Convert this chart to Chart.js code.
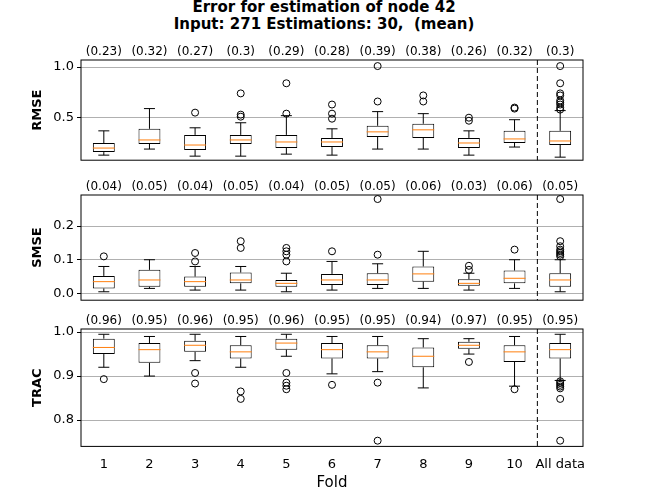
<!DOCTYPE html>
<html><head><meta charset="utf-8">
<script src="https://cdn.jsdelivr.net/npm/chart.js@4/dist/chart.umd.min.js"></script>
<style>
body{margin:0;width:648px;height:504px;position:relative;background:#fff;font-family:"DejaVu Sans";overflow:hidden}
.p{position:absolute;left:0;width:648px}
.t{position:absolute;left:0;width:648px;text-align:center;font-weight:bold;font-size:15px;color:#000;white-space:pre}
</style></head><body>
<div class="t" style="top:-2px">Error for estimation of node 42</div>
<div class="t" style="top:15px">Input: 271 Estimations: 30,  (mean)</div>
<div class="p" style="top:40px;height:131px"><canvas id="c1"></canvas></div>
<div class="p" style="top:175px;height:136px"><canvas id="c2"></canvas></div>
<div class="p" style="top:309px;height:195px"><canvas id="c3"></canvas></div>
<script>
const categories=['1','2','3','4','5','6','7','8','9','10','All data'];
// each stat: [whislo,q1,med,q3,whishi]
const rmseStats=[[0.13,0.16,0.20,0.25,0.37],[0.19,0.24,0.28,0.39,0.59],[0.12,0.18,0.23,0.33,0.40],[0.12,0.24,0.28,0.33,0.45],[0.14,0.20,0.26,0.33,0.52],[0.13,0.21,0.26,0.30,0.39],[0.19,0.31,0.36,0.42,0.56],[0.19,0.30,0.38,0.44,0.54],[0.13,0.20,0.25,0.30,0.37],[0.21,0.25,0.29,0.37,0.48],[0.11,0.23,0.27,0.37,0.57]];
const rmseOut=[[],[],[0.55],[0.51,0.53,0.74],[0.54,0.84],[0.49,0.54,0.63],[0.66,1.01],[0.66,0.72],[0.47,0.50],[0.59,0.60],[0.58,0.60,0.63,0.65,0.67,0.72,0.74,0.84,1.01]];
const rmseMeans=['(0.23)','(0.32)','(0.27)','(0.3)','(0.29)','(0.28)','(0.39)','(0.38)','(0.26)','(0.32)','(0.3)'];
const rmseTicks=[0.5,1.0];
const smseStats=[[0.005,0.015,0.035,0.052,0.08],[0.015,0.02,0.04,0.07,0.10],[0.01,0.02,0.035,0.05,0.08],[0.01,0.03,0.04,0.062,0.08],[0.005,0.02,0.03,0.04,0.06],[0.01,0.025,0.04,0.058,0.095],[0.015,0.025,0.04,0.06,0.088],[0.015,0.035,0.058,0.08,0.125],[0.01,0.023,0.03,0.042,0.06],[0.015,0.03,0.045,0.068,0.10],[0.005,0.02,0.04,0.06,0.10]];
const smseOut=[[0.11],[],[0.095,0.12],[0.135,0.155],[0.095,0.115,0.125,0.135],[0.125],[0.115,0.28],[],[0.07,0.082],[0.13],[0.11,0.115,0.12,0.125,0.13,0.14,0.155,0.28]];
const smseMeans=['(0.04)','(0.05)','(0.04)','(0.05)','(0.04)','(0.05)','(0.05)','(0.06)','(0.03)','(0.06)','(0.05)'];
const smseTicks=[0.0,0.1,0.2];
const tracStats=[[0.92,0.95,0.965,0.985,0.995],[0.90,0.93,0.96,0.975,0.99],[0.935,0.955,0.97,0.98,0.995],[0.92,0.94,0.955,0.97,0.99],[0.945,0.96,0.975,0.985,0.995],[0.905,0.94,0.96,0.975,0.99],[0.91,0.94,0.955,0.97,0.99],[0.873,0.92,0.945,0.965,0.985],[0.95,0.962,0.97,0.978,0.985],[0.877,0.932,0.955,0.97,0.99],[0.89,0.94,0.96,0.975,0.995]];
const tracOut=[[0.893],[],[0.907,0.883],[0.865,0.848],[0.907,0.885,0.878,0.87],[0.88],[0.885,0.753],[],[0.932],[0.87],[0.888,0.884,0.88,0.876,0.872,0.848,0.753]];
const tracMeans=['(0.96)','(0.95)','(0.96)','(0.95)','(0.96)','(0.95)','(0.95)','(0.94)','(0.97)','(0.95)','(0.95)'];
const tracTicks=[0.8,0.9,1.0];

const boxPlugin={id:'box',afterDatasetsDraw(chart,a,opts){
  const {ctx,chartArea:ca,scales:{x,y}}=chart;const st=opts.stats;
  ctx.save();ctx.lineWidth=1;
  st.forEach((s,i)=>{const cx=x.getPixelForValue(i);const hw=5.5;
    ctx.strokeStyle='#000';ctx.beginPath();
    ctx.moveTo(cx,y.getPixelForValue(s[0]));ctx.lineTo(cx,y.getPixelForValue(s[1]));
    ctx.moveTo(cx,y.getPixelForValue(s[3]));ctx.lineTo(cx,y.getPixelForValue(s[4]));
    [0,4].forEach(k=>{const py=y.getPixelForValue(s[k]);ctx.moveTo(cx-hw,py);ctx.lineTo(cx+hw,py);});
    ctx.stroke();
    ctx.strokeStyle='#ff7f0e';ctx.beginPath();const pm=y.getPixelForValue(s[2]);ctx.moveTo(cx-11,pm);ctx.lineTo(cx+11,pm);ctx.stroke();
  });
  ctx.strokeStyle='#000';ctx.strokeRect(ca.left,ca.top,ca.right-ca.left,ca.bottom-ca.top);
  const dx=(x.getPixelForValue(9)+x.getPixelForValue(10))/2;
  ctx.setLineDash([5,3]);ctx.beginPath();ctx.moveTo(dx,ca.top);ctx.lineTo(dx,ca.bottom);ctx.stroke();ctx.setLineDash([]);
  ctx.fillStyle='#000';ctx.font='12px "DejaVu Sans"';ctx.textAlign='center';ctx.textBaseline='bottom';
  opts.means.forEach((m,i)=>ctx.fillText(m,x.getPixelForValue(i),ca.top-2));
  ctx.restore();
}};
function make(id,stats,outs,means,title,min,max,tickVals,showX){
  const pts=[];outs.forEach((o,i)=>o.forEach(v=>pts.push({x:categories[i],y:v})));
  new Chart(document.getElementById(id),{type:'bar',
    data:{labels:categories,datasets:[
      {data:stats.map(s=>[s[1],s[3]]),backgroundColor:'#fff',borderColor:'#000',borderWidth:1,borderSkipped:false,barPercentage:0.48,categoryPercentage:1,order:2},
      {type:'line',data:pts,showLine:false,pointRadius:3.5,pointBackgroundColor:'rgba(0,0,0,0)',pointBorderColor:'#000',pointBorderWidth:1,order:1}]},
    options:{animation:false,responsive:true,maintainAspectRatio:false,events:[],
      layout:{padding:{top:20,right:65,left:30,bottom:showX?12:0}},
      plugins:{legend:{display:false},tooltip:{enabled:false},box:{stats,means}},
      scales:{
        x:{display:showX,offset:true,grid:{display:false},border:{display:false},
          ticks:{color:'#000',font:{family:'DejaVu Sans',size:13},maxRotation:0,minRotation:0,autoSkip:false,padding:2},
          title:{display:true,text:'Fold',color:'#000',font:{family:'DejaVu Sans',size:15},padding:{top:0,bottom:0}}},
        y:{min,max,afterFit(s){s.width=51;},afterBuildTicks(s){s.ticks=tickVals.map(v=>({value:v}));},border:{display:false},
          grid:{color:'#b0b0b0',drawTicks:true,tickLength:4,tickColor:'#000'},
          ticks:{color:'#000',font:{family:'DejaVu Sans',size:13},callback:v=>v.toFixed(1),padding:3},
          title:{display:true,text:title,color:'#000',font:{family:'DejaVu Sans',size:13,weight:'bold'},padding:0}}}},
    plugins:[boxPlugin]});
}
make('c1',rmseStats,rmseOut,rmseMeans,'RMSE',0.08,1.07,rmseTicks,false);
make('c2',smseStats,smseOut,smseMeans,'SMSE',-0.02,0.292,smseTicks,false);
make('c3',tracStats,tracOut,tracMeans,'TRAC',0.74,1.007,tracTicks,true);
</script></body></html>
